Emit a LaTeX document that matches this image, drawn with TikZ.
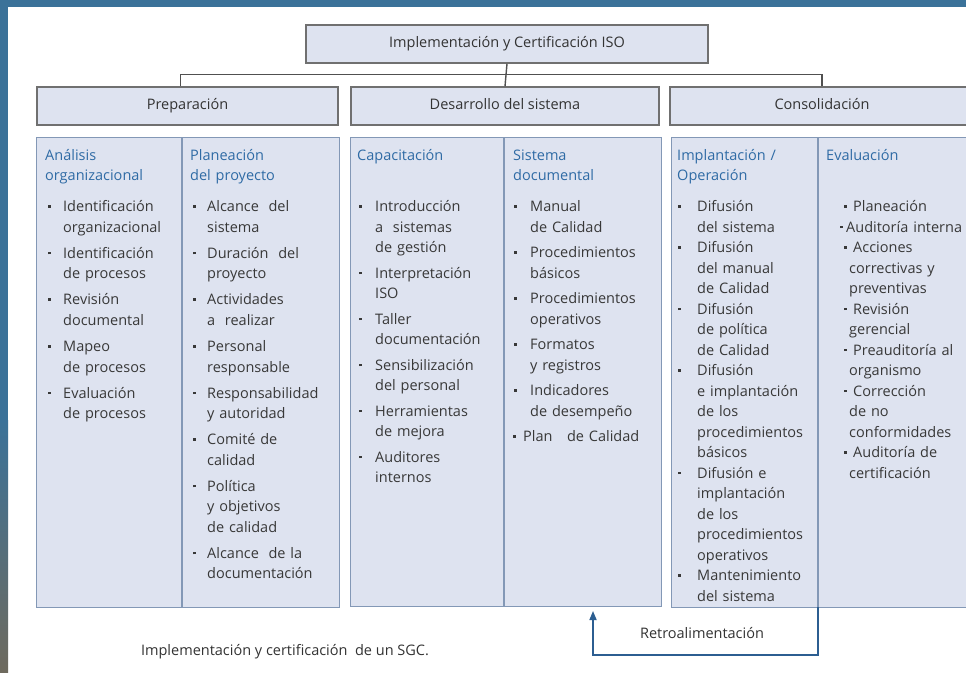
\documentclass[tikz,border=0pt]{standalone}
\usepackage{fontspec}
\setmainfont{Open Sans}
\usetikzlibrary{arrows.meta}
\definecolor{framec}{HTML}{3B7299}
\definecolor{framebot}{HTML}{6E6A5E}
\definecolor{boxfill}{HTML}{DEE3F0}
\definecolor{blockline}{HTML}{8398B6}
\definecolor{hdrline}{HTML}{707070}
\definecolor{headtxt}{HTML}{2F6BA5}
\definecolor{itemtxt}{HTML}{383838}
\definecolor{lbltxt}{HTML}{333333}
\definecolor{arrowc}{HTML}{2C5E91}
\definecolor{connc}{HTML}{505050}
\newlength\cBo \newlength\cTf \newlength\cTi \newlength\cIg
\newcommand\colset[4]{\setlength\cBo{#1pt}\setlength\cTf{#2pt}\setlength\cTi{#3pt}\setlength\cIg{#4pt}}
\newcommand\bul{\raisebox{4pt}{\rule{2.6pt}{2.6pt}}}
\newcommand\hdr[2]{\noindent\rule{0pt}{14.5pt}{\color{headtxt}#1\newline #2\mbox{}}\par\vspace{\dimexpr10.5pt-\cIg\relax}}
\newcommand\itm[1]{\par\vspace{\cIg}\noindent\hangindent=\cTi\hangafter=1\makebox[\cTf][l]{\hspace{\cBo}\bul}#1\par}
\newcommand\itmx[3]{\par\vspace{\cIg}\noindent\hangindent=\cTi\hangafter=1\makebox[#2pt][l]{\hspace{#1pt}\bul}#3\par}
\newcommand\itemfont{\fontsize{14.5}{20.5}\selectfont}
\newcommand\lblfont{\fontsize{14.5}{17}\selectfont}
\begin{document}
\begin{tikzpicture}[x=1pt,y=-1pt]
\tikzset{
 hbox/.style={draw=hdrline, line width=1.5pt, fill=boxfill, inner sep=0pt, font=\lblfont, text=lbltxt, text height=10.5pt, text depth=3.5pt},
 blk/.style={draw=blockline, line width=1.2pt, fill=boxfill, inner sep=0pt, anchor=north west},
 divl/.style={draw=blockline, line width=1.2pt},
 conn/.style={draw=connc, line width=1.4pt},
 colnode/.style={anchor=north west, inner sep=0pt, text width=170pt, align=left, font=\itemfont, text=itemtxt},
 fb/.style={draw=arrowc, line width=1.6pt, -{Triangle[length=9pt,width=7pt]}},
 plain/.style={inner sep=0pt, font=\lblfont, text=lbltxt},
}
\useasboundingbox (0,0) rectangle (966,672);
\clip (0,0) rectangle (966,672);
\fill[white] (0,0) rectangle (966,672);
% frame
\fill[framec] (0,0) rectangle (966,7);
\fill[framec] (0,0) rectangle (8,421);
\shade[top color=framec, bottom color=framebot] (0,420) rectangle (8,672);

% top and level-2 boxes
\node[hbox, minimum width=402pt, minimum height=38pt] (top) at (507,44) {Implementación y Certificación ISO};
\node[hbox, minimum width=301pt, minimum height=38pt] (prep) at (187.5,106) {Preparación};
\node[hbox, minimum width=308pt, minimum height=38pt] (dev) at (505,106) {Desarrollo del sistema};
\node[hbox, minimum width=304pt, minimum height=38pt] (cons) at (822,106) {Consolidación};

\draw[conn] (top.south) -- (dev.north);
\draw[conn] (prep.north) ++(-7,0) -- ++(0,-12) -| (cons.north);

% blocks
\node[blk, minimum width=303pt, minimum height=470pt] (bL) at (36,137) {};
\node[blk, minimum width=311pt, minimum height=469pt] (bM) at (350,137) {};
\node[blk, minimum width=304pt, minimum height=470pt] (bR) at (671,137) {};
\draw[divl] (bL.north west) ++(146,0) -- ++(0,470);
\draw[divl] (bM.north west) ++(154,0) -- ++(0,469);
\draw[divl] (bR.north west) ++(147,0) -- ++(0,470);

% columns
\node[colnode] (c1) at (45,145.5) {\colset{3}{18}{18}{5.6}%
\hdr{Análisis}{organizacional}%
\itm{Identificación\newline organizacional}%
\itm{Identificación\newline de procesos}%
\itm{Revisión\newline documental}%
\itm{Mapeo\newline de procesos}%
\itm{Evaluación\newline de procesos}};

\node[colnode] (c2) at (190,145.5) {\colset{3}{17}{17}{5.6}%
\hdr{Planeación}{del proyecto}%
\itm{Alcance\ \ del\newline sistema}%
\itm{Duración\ \ del\newline proyecto}%
\itm{Actividades\newline a\ \ realizar}%
\itm{Personal\newline responsable}%
\itm{Responsabilidad\newline y autoridad}%
\itm{Comité de\newline calidad}%
\itm{Política\newline y objetivos\newline de calidad}%
\itm{Alcance\ \ de la\newline documentación}};

\node[colnode] (c3) at (357,145.5) {\colset{2}{18}{18}{5}%
\hdr{Capacitación}{}%
\itm{Introducción\newline a\ \ sistemas\newline de gestión}%
\itm{Interpretación\newline ISO}%
\itm{Taller\newline documentación}%
\itm{Sensibilización\newline del personal}%
\itm{Herramientas\newline de mejora}%
\itm{Auditores\newline internos}};

\node[colnode] (c4) at (513,145.5) {\colset{1}{17}{17}{5}%
\hdr{Sistema}{documental}%
\itm{Manual\newline de Calidad}%
\itm{Procedimientos\newline básicos}%
\itm{Procedimientos\newline operativos}%
\itm{Formatos\newline y registros}%
\itm{Indicadores\newline de desempeño}%
\itmx{0}{10}{Plan\ \ \ de Calidad}};

\node[colnode] (c5) at (677,145.5) {\colset{1}{20}{20}{0}%
\hdr{Implantación /}{Operación}%
\itm{Difusión\newline del sistema}%
\itm{Difusión\newline del manual\newline de Calidad}%
\itm{Difusión\newline de política\newline de Calidad}%
\itm{Difusión\newline e implantación\newline de los\newline procedimientos\newline básicos}%
\itm{Difusión e\newline implantación\newline de los\newline procedimientos\newline operativos}%
\itm{Mantenimiento\newline del sistema}};

\node[colnode] (c6) at (826,145.5) {\colset{18}{27}{23}{0}%
\hdr{Evaluación}{}%
\itm{Planeación}%
\itmx{14}{20}{Auditoría\hspace{5pt}interna}%
\itm{Acciones\newline correctivas y\newline preventivas}%
\itm{Revisión\newline gerencial}%
\itm{Preauditoría al\newline organismo}%
\itm{Corrección\newline de no\newline conformidades}%
\itm{Auditoría de\newline certificación}};

% feedback arrow
\coordinate (fbA) at (818,607);
\coordinate (fbB) at (593,611);
\draw[fb] (fbA) -- ++(0,48) -| (fbB);
\node[plain] (retro) at (702,633) {Retroalimentación};
\node[plain] (cap) at (285,652) {Implementación y certificación\ \ de un SGC.};
\end{tikzpicture}
\end{document}
